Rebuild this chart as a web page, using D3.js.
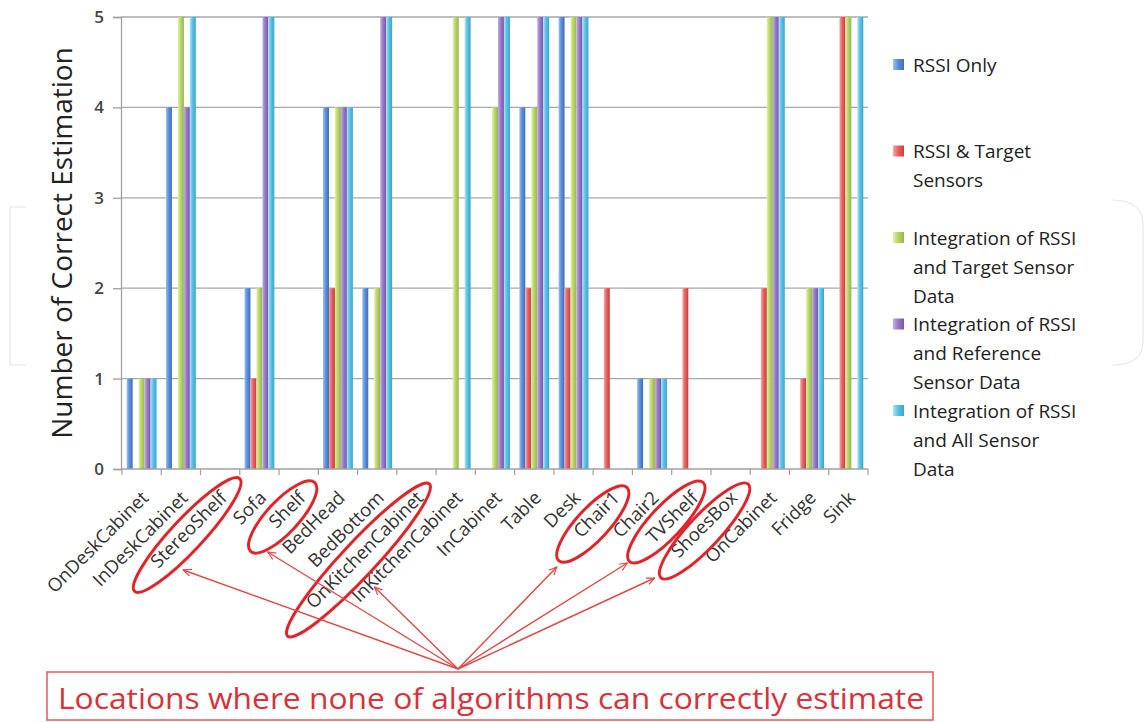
<!DOCTYPE html>
<html><head><meta charset="utf-8">
<script src="https://cdn.jsdelivr.net/npm/d3@7"></script>
<style>html,body{margin:0;padding:0;background:#fff;}svg{display:block;}</style>
</head><body>
<svg id="chart" width="1145" height="722"></svg>
<script>
const categories = ["OnDeskCabinet","InDeskCabinet","StereoShelf","Sofa","Shelf","BedHead","BedBottom","OnKitchenCabinet","InKitchenCabinet","InCabinet","Table","Desk","Chair1","Chair2","TVShelf","ShoesBox","OnCabinet","Fridge","Sink"];
const rssiOnly      = [1,4,0,2,0,4,2,0,0,0,4,5,0,1,0,0,0,0,0];
const rssiTarget    = [0,0,0,1,0,2,0,0,0,0,2,2,2,0,2,0,2,1,5];
const intTarget     = [1,5,0,2,0,4,2,0,5,4,4,5,0,1,0,0,5,2,5];
const intReference  = [1,4,0,5,0,4,5,0,0,5,5,5,0,1,0,0,5,2,0];
const intAll        = [1,5,0,5,0,4,5,0,5,5,5,5,0,1,0,0,5,2,5];
const seriesNames = ["RSSI Only","RSSI & Target Sensors","Integration of RSSI and Target Sensor Data","Integration of RSSI and Reference Sensor Data","Integration of RSSI and All Sensor Data"];
const legendLines = [["RSSI Only"],["RSSI & Target","Sensors"],["Integration of RSSI","and Target Sensor","Data"],["Integration of RSSI","and Reference","Sensor Data"],["Integration of RSSI","and All Sensor","Data"]];
const yTicks = [0,1,2,3,4,5];
const yTitle = "Number of Correct Estimation";
const noteText = "Locations where none of algorithms can correctly estimate";
const circled = ["StereoShelf","Shelf","OnKitchenCabinet","Chair1","TVShelf","ShoesBox"];

const seriesValues = [rssiOnly, rssiTarget, intTarget, intReference, intAll];
const colors = [
  ["#9cc0f0","#5b8fdc","#3f6fc0"],
  ["#f6a8a8","#e86262","#cc3c3c"],
  ["#e2f0a8","#b8d66a","#92b848"],
  ["#c4aee6","#9a78cc","#7656ae"],
  ["#a8e6f6","#58c2e4","#3aa6cc"]
];

const svg = d3.select("#chart");
svg.append("rect").attr("width",1145).attr("height",722).attr("fill","#fff");
const defs = svg.append("defs");
colors.forEach((c,i)=>{
  const g = defs.append("linearGradient").attr("id","g"+i).attr("x1","0").attr("x2","1").attr("y1","0").attr("y2","0");
  g.append("stop").attr("offset","0").attr("stop-color",c[0]);
  g.append("stop").attr("offset","0.45").attr("stop-color",c[1]);
  g.append("stop").attr("offset","1").attr("stop-color",c[2]);
});
defs.append("marker").attr("id","arr").attr("viewBox","0 0 10 10").attr("refX",9).attr("refY",5)
  .attr("markerWidth",9).attr("markerHeight",9).attr("markerUnits","userSpaceOnUse").attr("orient","auto-start-reverse")
  .append("path").attr("d","M0,1 L9,5 L0,9").attr("fill","none").attr("stroke","#e04848").attr("stroke-width",1.3);

// faint watermark shapes
svg.append("path").attr("d","M26,207 L10,207 L10,365 L26,365").attr("fill","none").attr("stroke","#e4e4e4").attr("stroke-width",1.2);
svg.append("path").attr("d","M1112,200 Q1143,200 1143,225 L1143,342 Q1143,365 1112,365").attr("fill","none").attr("stroke","#e8e8e8").attr("stroke-width",1.2);

const L = 121, R = 868, T = 17, B = 469;
const y = d3.scaleLinear().domain([0,5]).range([B,T]);
const x0 = d3.scaleBand().domain(categories).range([L+1, R]).padding(0);
const bw = x0.bandwidth();
const x1 = d3.scaleBand().domain(d3.range(seriesValues.length)).range([bw*0.12, bw*0.88]).padding(0);

// gridlines
svg.append("g").selectAll("line").data(yTicks.filter(d=>d>0)).join("line")
  .attr("x1",L).attr("x2",R).attr("y1",d=>y(d)).attr("y2",d=>y(d))
  .attr("stroke","#a8a8a8").attr("stroke-width",1.3);

// bars
const gBars = svg.append("g");
categories.forEach((c,ci)=>{
  seriesValues.forEach((vals,si)=>{
    const v = vals[ci];
    if(v<=0) return;
    gBars.append("rect").attr("x",x0(c)+x1(si)).attr("width",x1.bandwidth())
      .attr("y",y(v)).attr("height",y(0)-y(v)).attr("fill","url(#g"+si+")");
  });
});

// y axis
const yAxis = d3.axisLeft(y).tickValues(yTicks).tickSize(8).tickPadding(9).tickFormat(d3.format("d"));
const gy = svg.append("g").attr("transform",`translate(${L},0)`).call(yAxis);
gy.select(".domain").attr("stroke","#a0a0a0").attr("stroke-width",1.3);
gy.selectAll(".tick line").attr("stroke","#a0a0a0").attr("stroke-width",1.3);
gy.selectAll(".tick text").attr("font-family","Open Sans").attr("font-size",17).attr("font-weight",600).attr("fill","#444");

// x axis
const xAxis = d3.axisBottom(x0).tickSize(0).tickFormat("");
const gx = svg.append("g").attr("transform",`translate(0,${B})`).call(xAxis);
gx.select(".domain").attr("stroke","#a0a0a0").attr("stroke-width",1.3).attr("d",`M${L},0H${R}`);
const boundaries = categories.map(c=>x0(c)).concat([x0(categories[categories.length-1])+bw]);
gx.selectAll(".btick").data(boundaries).join("line").attr("class","btick")
  .attr("x1",d=>d).attr("x2",d=>d).attr("y1",0).attr("y2",6).attr("stroke","#a0a0a0").attr("stroke-width",1.2);
svg.append("g").selectAll("text").data(categories).join("text")
  .attr("transform",d=>`translate(${x0(d)+bw/2+8},${B+30}) rotate(-45)`)
  .attr("text-anchor","end").attr("font-family","Open Sans").attr("font-size",18.5)
  .attr("fill","#333").text(d=>d);

// y title
svg.append("text").attr("transform",`translate(72,${(T+B)/2}) rotate(-90)`)
  .attr("text-anchor","middle").attr("font-family","Open Sans").attr("font-size",28).attr("fill","#222").text(yTitle);

// legend
const lg = svg.append("g");
legendLines.forEach((lines,i)=>{
  const cy = 65 + i*86.5;
  lg.append("rect").attr("x",893).attr("y",cy-6).attr("width",11).attr("height",11).attr("fill","url(#g"+i+")");
  lines.forEach((t,j)=>{
    lg.append("text").attr("x",913).attr("y",cy + j*29 + 6.5).attr("font-family","Open Sans").attr("font-size",19).attr("fill","#222").text(t);
  });
});

// annotations: ellipses around circled labels, arrows from note box
const ellipseSpec = {StereoShelf:{dx:-33,cy:535,rx:77,ry:16}, Shelf:{dx:-16,cy:517,rx:47,ry:16}, OnKitchenCabinet:{dx:-58,cy:560,rx:104,ry:17},
  Chair1:{dx:-20,cy:524,rx:50,ry:16}, TVShelf:{dx:-25,cy:522,rx:54,ry:16}, ShoesBox:{dx:-26,cy:531,rx:64,ry:16}};
const tipSpec = {StereoShelf:{dx:-37,dy:570}, Shelf:{dx:-31,dy:552}, OnKitchenCabinet:{dx:-42,dy:587},
  Chair1:{dx:-56,dy:567}, TVShelf:{dx:-64,dy:563}, ShoesBox:{dx:-76,dy:578}};
const ga = svg.append("g");
circled.forEach(c=>{
  const e = ellipseSpec[c];
  const cx = x0(c)+bw/2+e.dx;
  ga.append("ellipse").attr("cx",0).attr("cy",0).attr("rx",e.rx).attr("ry",e.ry)
    .attr("transform",`translate(${cx},${e.cy}) rotate(-47)`)
    .attr("fill","none").attr("stroke","#e0242a").attr("stroke-width",3);
});
const apex = [458,669];
circled.forEach(c=>{
  const t = tipSpec[c];
  ga.append("line").attr("x1",apex[0]).attr("y1",apex[1]).attr("x2",x0(c)+bw/2+t.dx).attr("y2",t.dy)
    .attr("stroke","#e04848").attr("stroke-width",1.4).attr("marker-end","url(#arr)");
});
ga.append("rect").attr("x",47).attr("y",672).attr("width",886).attr("height",48)
  .attr("fill","#fff").attr("stroke","#e25a5a").attr("stroke-width",1.5);
ga.append("text").attr("x",58).attr("y",709).attr("font-family","Open Sans").attr("font-size",30)
  .attr("textLength",866).attr("lengthAdjust","spacingAndGlyphs").attr("fill","#d8323a").text(noteText);
</script>
</body></html>
